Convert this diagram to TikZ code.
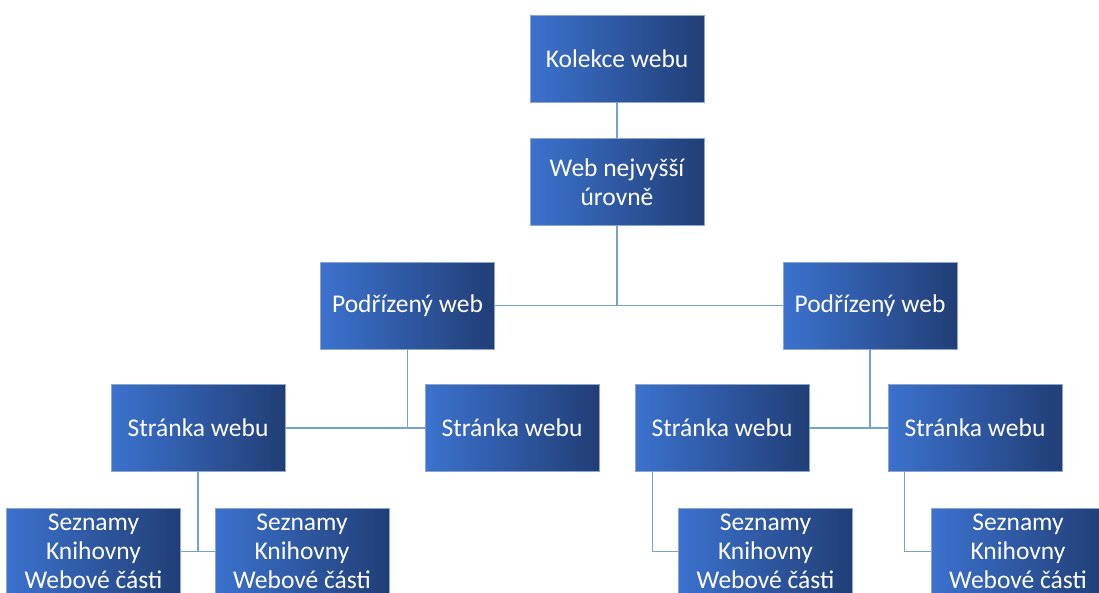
\documentclass[tikz,border=0pt]{standalone}
\usepackage{fontspec}
\setmainfont{Carlito}
\definecolor{boxleft}{RGB}{60,114,206}
\definecolor{boxright}{RGB}{33,62,118}
\definecolor{boxborder}{RGB}{140,165,205}
\definecolor{linecol}{RGB}{116,160,210}
\tikzset{
  orgbox/.style={draw=boxborder, line width=0.8pt, left color=boxleft, right color=boxright,
    shading angle=90, minimum width=174pt, minimum height=87pt, inner sep=0pt,
    text=white, align=center, font=\fontsize{25.5}{29}\selectfont},
  conn/.style={draw=linecol, line width=1.6pt}
}
\begin{document}
\begin{tikzpicture}[x=1pt,y=-1pt]
\useasboundingbox (0,0) rectangle (1099,592);
\clip (0,0) rectangle (1099,592);
\node[orgbox] (k) at (617,58.5) {Kolekce webu};
\node[orgbox] (w) at (617,182) {Web nejvyšší\\úrovně};
\node[orgbox] (p1) at (407.5,305.5) {Podřízený web};
\node[orgbox] (p2) at (870,305.5) {Podřízený web};
\node[orgbox] (s1) at (198,428) {Stránka webu};
\node[orgbox] (s2) at (512,428) {Stránka webu};
\node[orgbox] (s3) at (722,428) {Stránka webu};
\node[orgbox] (s4) at (975,428) {Stránka webu};
\node[orgbox] (l1) at (93.5,551.5) {Seznamy\\Knihovny\\Webové části};
\node[orgbox] (l2) at (302,551.5) {Seznamy\\Knihovny\\Webové části};
\node[orgbox] (l3) at (765.5,551.5) {Seznamy\\Knihovny\\Webové části};
\node[orgbox] (l4) at (1018,551.5) {Seznamy\\Knihovny\\Webové části};
\begin{scope}[on background layer/.style={}]
\draw[conn] (k.south) -- (w.north);
\draw[conn] (w.south) -- (w.south |- p1.east);
\draw[conn] (p1.east) -- (p2.west);
\draw[conn] (p1.south) -- (p1.south |- s1.east);
\draw[conn] (s1.east) -- (s2.west);
\draw[conn] (p2.south) -- (p2.south |- s3.east);
\draw[conn] (s3.east) -- (s4.west);
\draw[conn] (s1.south) -- (s1.south |- l1.east);
\draw[conn] (l1.east) -- (l2.west);
\draw[conn] ([xshift=18pt]s3.south west) |- (l3.west);
\draw[conn] ([xshift=17pt]s4.south west) |- (l4.west);
\end{scope}
\end{tikzpicture}
\end{document}
